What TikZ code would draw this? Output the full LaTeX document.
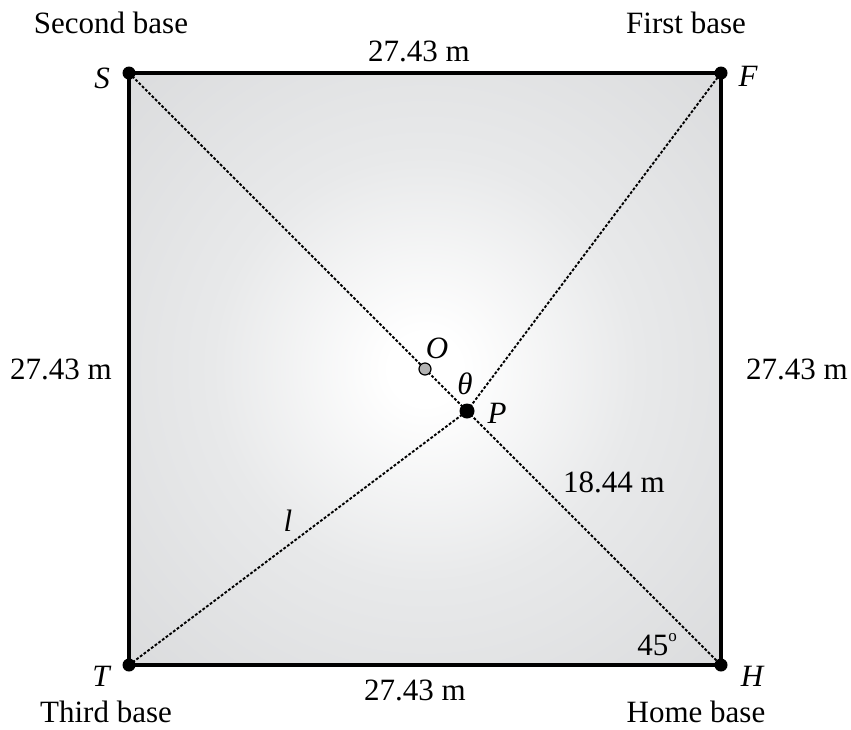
\documentclass[tikz,border=0pt]{standalone}
\usepackage{fontspec}
\setmainfont{Liberation Serif}
\definecolor{shA}{RGB}{255,255,255}
\definecolor{shB}{RGB}{232,233,234}
\definecolor{shC}{RGB}{208,209,211}
\definecolor{shD}{RGB}{192,193,196}
\pgfdeclareradialshading{fieldshade}{\pgfpoint{0bp}{0bp}}{color(0bp)=(shA); color(3bp)=(shA); color(18bp)=(shB); color(50bp)=(shC); color(71bp)=(shD)}
\begin{document}
\begin{tikzpicture}[x=1pt,y=-1pt,
  lbl/.style={font=\fontsize{31}{37}\selectfont, inner sep=0pt},
  ilbl/.style={font=\fontsize{31}{37}\selectfont\itshape, inner sep=0pt},
  diag/.style={line width=1.9pt, dash pattern=on 2.8pt off 1.8pt},
  side/.style={line width=3.2pt, line join=miter},
  dot/.style={circle, fill=black, inner sep=0pt, minimum size=13pt},
  pdot/.style={circle, fill=black, inner sep=0pt, minimum size=15pt},
  odot/.style={circle, fill=black!30, draw=black, line width=1.2pt, inner sep=0pt, minimum size=12pt}]
\useasboundingbox (0,0) rectangle (851,729);
\coordinate (S) at (129,73);
\coordinate (F) at (721,73);
\coordinate (T) at (129,665);
\coordinate (H) at (721,665);
\coordinate (O) at (425,369);
\coordinate (P) at (467,411);
% field
\fill[shading=fieldshade] (S) rectangle (H);
% diagonals
\draw[diag] (S) -- (H);
\draw[diag] (T) -- (P) -- (F);
% sides
\draw[side] (S) -- (F) -- (H) -- (T) -- cycle;
% points
\node[dot] (Sd) at (S) {};
\node[dot] (Fd) at (F) {};
\node[dot] (Td) at (T) {};
\node[dot] (Hd) at (H) {};
\node[pdot] (Pd) at (P) {};
\node[odot] (Od) at (O) {};
% labels
\node[lbl] (lsb) at (111,23) {Second base};
\node[lbl] (lfb) at (686,23) {First base};
\node[lbl] (ltb) at (106,712) {Third base};
\node[lbl] (lhb) at (696,712) {Home base};
\node[ilbl] (lS) at (102,78) {S};
\node[ilbl] (lF) at (748,76) {F};
\node[ilbl] (lT) at (101,676) {T};
\node[ilbl] (lH) at (752,676) {H};
\node[lbl] (dtop) at (419,51) {27.43 m};
\node[lbl] (dbot) at (415,690) {27.43 m};
\node[lbl] (dleft) at (61,369) {27.43 m};
\node[lbl] (dright) at (797,369) {27.43 m};
\node[lbl] (d18) at (614,482) {18.44 m};
\node[ilbl] (lO) at (437,348) {O};
\node[ilbl] (lth) at (465,384) {θ};
\node[ilbl] (lP) at (497,413) {P};
\node[ilbl] (ll) at (288,521) {l};
\node[lbl] (l45) at (657,645) {45\raisebox{0.45em}{\fontsize{17}{20}\selectfont o}};
\end{tikzpicture}
\end{document}
